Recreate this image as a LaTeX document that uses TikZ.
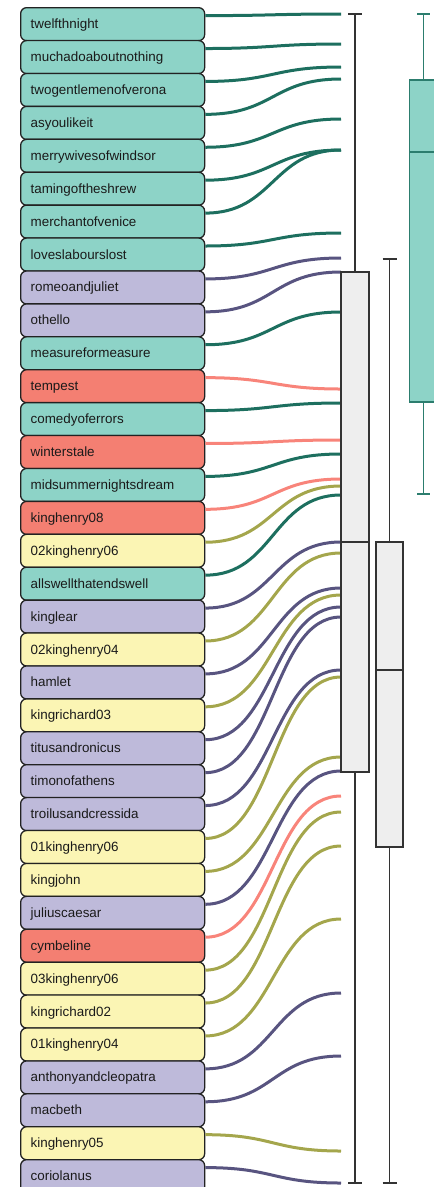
\documentclass[tikz,border=0pt]{standalone}
\usepackage{fontspec}
\setmainfont{Liberation Sans}
\usetikzlibrary{calc}
\definecolor{fillC}{HTML}{8DD3C7}
\definecolor{fillT}{HTML}{BEBADA}
\definecolor{fillR}{HTML}{F47F72}
\definecolor{fillH}{HTML}{FBF5B4}
\definecolor{lineC}{HTML}{1D6F5F}
\definecolor{lineT}{HTML}{585480}
\definecolor{lineR}{HTML}{F8847A}
\definecolor{lineH}{HTML}{A4A64C}
\definecolor{boxline}{HTML}{222222}
\definecolor{textcol}{HTML}{1A1A1A}
\definecolor{grayfill}{HTML}{EEEEEE}
\definecolor{grayline}{HTML}{333333}
\definecolor{tealstroke}{HTML}{2C7D6E}
\tikzset{
  play/.style={draw=boxline, line width=1.3pt, rounded corners=6pt, anchor=north west,
    minimum height=33pt, inner xsep=10pt, inner ysep=0pt, text width=164pt, align=left,
    font=\fontsize{13.4}{15}\selectfont, text height=9.5pt, text depth=0.5pt, text=textcol},
  link/.style={line width=3pt},
  gline/.style={draw=grayline, line width=1.4pt},
  gbox/.style={draw=grayline, fill=grayfill, line width=1.5pt},
  tline/.style={draw=tealstroke, line width=1.3pt},
  tbox/.style={draw=tealstroke, fill=fillC, line width=1.3pt}
}
\begin{document}
\begin{tikzpicture}[x=1pt,y=-1pt]
\useasboundingbox (0,0) rectangle (434,1187);
\clip (0,0) rectangle (434,1187);
\foreach \i/\t/\c/\e in {
 1/twelfthnight/C/14, 2/muchadoaboutnothing/C/44, 3/twogentlemenofverona/C/67,
 4/asyoulikeit/C/79, 5/merrywivesofwindsor/C/119, 6/tamingoftheshrew/C/150,
 7/merchantofvenice/C/150, 8/loveslabourslost/C/233, 9/romeoandjuliet/T/258,
 10/othello/T/272, 11/measureformeasure/C/312, 12/tempest/R/389,
 13/comedyoferrors/C/403, 14/winterstale/R/440, 15/midsummernightsdream/C/454,
 16/kinghenry08/R/479, 17/02kinghenry06/H/486, 18/allswellthatendswell/C/495,
 19/kinglear/T/542, 20/02kinghenry04/H/553, 21/hamlet/T/588,
 22/kingrichard03/H/595, 23/titusandronicus/T/607, 24/timonofathens/T/617,
 25/troilusandcressida/T/670, 26/01kinghenry06/H/677, 27/kingjohn/H/757,
 28/juliuscaesar/T/771, 29/cymbeline/R/796, 30/03kinghenry06/H/812,
 31/kingrichard02/H/846, 32/01kinghenry04/H/919, 33/anthonyandcleopatra/T/993,
 34/macbeth/T/1056, 35/kinghenry05/H/1151, 36/coriolanus/T/1183} {
  \node[play, fill=fill\c] (b\i) at (20,{7+32.914*(\i-1)}) {\t};
  \coordinate (e\i) at (341,\e);
  \draw[link, draw=line\c] ($(b\i.north east)+(0,8.6)$) .. controls +(68.5,0) and +(-68.5,0) .. (e\i);
}
% boxplot 1
\draw[gline] (355,14) -- (355,272);
\draw[gline] (348,14) -- (362,14);
\draw[gline] (355,772) -- (355,1183);
\draw[gline] (348,1183) -- (362,1183);
\draw[gbox] (341,272) rectangle (369,772);
\draw[gline] (341,542) -- (369,542);
% boxplot 2
\draw[gline] (389.5,259) -- (389.5,542);
\draw[gline] (382.5,259) -- (396.5,259);
\draw[gline] (389.5,847) -- (389.5,1183);
\draw[gline] (382.5,1183) -- (396.5,1183);
\draw[gbox] (376,542) rectangle (403,847);
\draw[gline] (376,670) -- (403,670);
% boxplot 3
\draw[tline] (423.5,14) -- (423.5,80);
\draw[tline] (417,14) -- (430,14);
\draw[tline] (423.5,402) -- (423.5,494);
\draw[tline] (417,494) -- (430,494);
\draw[tbox] (409.5,80) rectangle (437.5,402);
\draw[tline] (409.5,152) -- (437.5,152);
\end{tikzpicture}
\end{document}
